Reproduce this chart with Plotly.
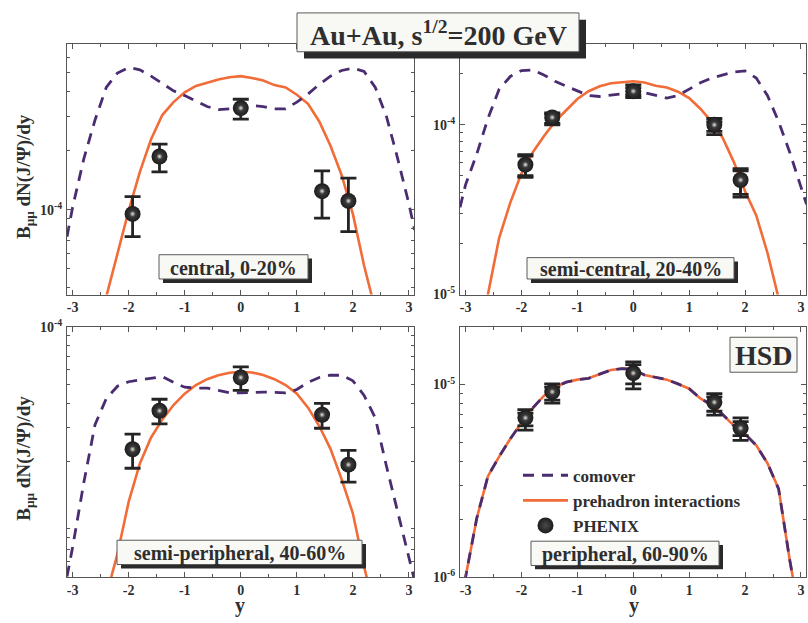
import numpy as np
import plotly.graph_objects as go

W, H = 808, 623
SERIF = "Liberation Serif"
TXT = "#2e2e2e"
AX = "#555555"
ORANGE = "#f26c38"
PURPLE = "#4a2c70"
DARK = "#242424"

# ---------------- data ----------------
rap = [-3.1, -3.0, -2.8, -2.6, -2.4, -2.2, -2.0, -1.8, -1.6, -1.4, -1.2, -1.0, -0.8,
       -0.6, -0.4, -0.2, 0.0, 0.2, 0.4, 0.6, 0.8, 1.0, 1.2, 1.4, 1.6, 1.8, 2.0, 2.2,
       2.4, 2.6, 2.8, 3.0, 3.1]

central_comover = [7.3e-5, 1.03e-4, 1.82e-4, 2.87e-4, 4.2e-4, 4.98e-4, 5.31e-4, 5.17e-4,
                   4.8e-4, 4.4e-4, 4.04e-4, 3.82e-4, 3.57e-4, 3.36e-4, 3.24e-4, 3.27e-4,
                   3.34e-4, 3.40e-4, 3.36e-4, 3.27e-4, 3.27e-4, 3.54e-4, 3.89e-4, 4.36e-4,
                   4.8e-4, 5.13e-4, 5.27e-4, 5.07e-4, 4.2e-4, 2.98e-4, 1.82e-4, 1.07e-4, 7.9e-5]
central_prehadron = [8e-6, 1.0e-5, 1.5e-5, 2.3e-5, 3.6e-5, 6.04e-5, 9.9e-5, 1.56e-4, 2.29e-4,
                     3.04e-4, 3.54e-4, 3.97e-4, 4.28e-4, 4.44e-4, 4.62e-4, 4.74e-4, 4.8e-4,
                     4.70e-4, 4.56e-4, 4.32e-4, 4.2e-4, 3.86e-4, 3.47e-4, 2.82e-4, 2.12e-4,
                     1.5e-4, 9.5e-5, 5.19e-5, 2.9e-5, 1.6e-5, 1.0e-5, 6e-6, 5e-6]

semicentral_comover = [3.26e-5, 4.44e-5, 6.73e-5, 1.09e-4, 1.62e-4, 1.93e-4, 2.09e-4, 2.11e-4,
                       1.97e-4, 1.81e-4, 1.69e-4, 1.58e-4, 1.49e-4, 1.47e-4, 1.50e-4, 1.53e-4,
                       1.55e-4, 1.55e-4, 1.49e-4, 1.44e-4, 1.49e-4, 1.62e-4, 1.77e-4, 1.89e-4,
                       1.97e-4, 2.05e-4, 2.08e-4, 1.89e-4, 1.49e-4, 1.045e-4, 6.87e-5, 4.34e-5, 3.4e-5]
semicentral_prehadron = [3e-6, 4e-6, 6e-6, 1.0e-5, 2.15e-5, 3.48e-5, 5.18e-5, 6.87e-5, 8.57e-5,
                         1.045e-4, 1.22e-4, 1.42e-4, 1.58e-4, 1.69e-4, 1.76e-4, 1.79e-4, 1.81e-4,
                         1.78e-4, 1.70e-4, 1.66e-4, 1.57e-4, 1.44e-4, 1.245e-4, 1.045e-4, 8.38e-5,
                         6.03e-5, 4.06e-5, 2.92e-5, 1.76e-5, 9.5e-6, 5e-6, 3e-6, 2.5e-6]

semiperipheral_comover = [5.04e-6, 7.14e-6, 1.55e-5, 3.1e-5, 4.23e-5, 4.91e-5, 5.18e-5, 5.28e-5,
                          5.41e-5, 5.51e-5, 5.14e-5, 4.85e-5, 4.8e-5, 4.8e-5, 4.67e-5, 4.54e-5,
                          4.53e-5, 4.56e-5, 4.58e-5, 4.56e-5, 4.53e-5, 4.72e-5, 5.14e-5, 5.45e-5,
                          5.6e-5, 5.6e-5, 5.24e-5, 4.4e-5, 3.36e-5, 1.88e-5, 1.09e-5, 6.11e-6, 4.8e-6]
semiperipheral_prehadron = [5e-7, 7e-7, 1.2e-6, 2e-6, 4e-6, 6.6e-6, 1.23e-5, 1.95e-5, 2.66e-5,
                            3.29e-5, 3.92e-5, 4.49e-5, 4.98e-5, 5.34e-5, 5.6e-5, 5.77e-5, 5.84e-5,
                            5.79e-5, 5.62e-5, 5.34e-5, 4.98e-5, 4.49e-5, 3.8e-5, 3.05e-5, 2.32e-5,
                            1.61e-5, 1.07e-5, 5.66e-6, 3.5e-6, 2e-6, 1.2e-6, 7e-7, 5e-7]

peripheral_comover = [6e-7, 1.0e-6, 2.02e-6, 3.34e-6, 4.22e-6, 5.22e-6, 6.33e-6, 7.54e-6, 8.73e-6,
                      9.7e-6, 1.028e-5, 1.06e-5, 1.077e-5, 1.13e-5, 1.19e-5, 1.21e-5, 1.2e-5,
                      1.12e-5, 1.09e-5, 1.06e-5, 1.007e-5, 9.51e-6, 8.47e-6, 7.83e-6, 6.98e-6,
                      6.1e-6, 5.53e-6, 4.83e-6, 3.9e-6, 2.87e-6, 1.22e-6, 6e-7, 4e-7]
peripheral_prehadron = [6e-7, 1.0e-6, 2.02e-6, 3.34e-6, 4.22e-6, 5.22e-6, 6.33e-6, 7.54e-6, 8.73e-6,
                        9.7e-6, 1.028e-5, 1.06e-5, 1.077e-5, 1.13e-5, 1.19e-5, 1.21e-5, 1.2e-5,
                        1.12e-5, 1.09e-5, 1.06e-5, 1.007e-5, 9.51e-6, 8.47e-6, 7.83e-6, 6.98e-6,
                        6.1e-6, 5.53e-6, 4.83e-6, 3.9e-6, 2.87e-6, 1.22e-6, 6e-7, 4e-7]

phenix_rap = [-1.93, -1.45, 0.0, 1.45, 1.92]

central_data = [9.53e-5, 1.87e-4, 3.30e-4, 1.245e-4, 1.11e-4]
central_hi = [1.166e-4, 2.16e-4, 3.66e-4, 1.58e-4, 1.45e-4]
central_lo = [7.3e-5, 1.56e-4, 2.9e-4, 9.07e-5, 7.74e-5]

semicentral_data = [5.82e-5, 1.107e-4, 1.58e-4, 1.0e-4, 4.73e-5]
semicentral_hi = [6.67e-5, 1.175e-4, 1.72e-4, 1.09e-4, 5.52e-5]
semicentral_lo = [4.91e-5, 1.0e-4, 1.45e-4, 8.77e-5, 3.75e-5]
semicentral_hi2 = [6.54e-5, 1.156e-4, 1.66e-4, 1.045e-4, 5.35e-5]
semicentral_lo2 = [5.01e-5, 1.02e-4, 1.50e-4, 9.16e-5, 3.89e-5]

semiperipheral_data = [2.31e-5, 3.66e-5, 5.45e-5, 3.49e-5, 1.92e-5]
semiperipheral_hi = [2.77e-5, 4.2e-5, 6.19e-5, 4.0e-5, 2.28e-5]
semiperipheral_lo = [1.84e-5, 3.13e-5, 4.67e-5, 2.97e-5, 1.56e-5]

peripheral_data = [6.71e-6, 9.16e-6, 1.146e-5, 8.09e-6, 5.93e-6]
peripheral_hi = [7.4e-6, 1.007e-5, 1.31e-5, 8.97e-6, 6.71e-6]
peripheral_lo = [5.8e-6, 8.0e-6, 9.5e-6, 6.93e-6, 5.12e-6]
peripheral_hi2 = [7.1e-6, 9.7e-6, 1.27e-5, 8.63e-6, 6.41e-6]
peripheral_lo2 = [6.1e-6, 8.3e-6, 1.007e-5, 7.26e-6, 5.43e-6]

panel_labels = ["central, 0-20%", "semi-central, 20-40%",
                "semi-peripheral, 40-60%", "peripheral, 60-90%"]
x_ticks = [-3, -2, -1, 0, 1, 2, 3]
x_ticktext = ["-3", "-2", "-1", "0", "1", "2", "3"]

# ---------------- layout helpers ----------------
def fx(px):
    return px / W


def fy(py):
    return 1 - py / H


panels = [
    dict(comover=central_comover, prehad=central_prehadron, data=central_data,
         hi=central_hi, lo=central_lo, hi2=None, lo2=None,
         yrange=[np.log10(3.7e-5), np.log10(7e-4)], majors=[1e-4],
         xdom=[fx(67), fx(414)], ydom=[fy(293), fy(35)]),
    dict(comover=semicentral_comover, prehad=semicentral_prehadron, data=semicentral_data,
         hi=semicentral_hi, lo=semicentral_lo, hi2=semicentral_hi2, lo2=semicentral_lo2,
         yrange=[-5.001, np.log10(3e-4)], majors=[1e-5, 1e-4],
         xdom=[fx(460), fx(806)], ydom=[fy(293), fy(35)]),
    dict(comover=semiperipheral_comover, prehad=semiperipheral_prehadron, data=semiperipheral_data,
         hi=semiperipheral_hi, lo=semiperipheral_lo, hi2=None, lo2=None,
         yrange=[np.log10(5e-6), -3.999], majors=[1e-4],
         xdom=[fx(67), fx(414)], ydom=[fy(584), fy(326)]),
    dict(comover=peripheral_comover, prehad=peripheral_prehadron, data=peripheral_data,
         hi=peripheral_hi, lo=peripheral_lo, hi2=peripheral_hi2, lo2=peripheral_lo2,
         yrange=[-6.001, np.log10(2e-5)], majors=[1e-6, 1e-5],
         xdom=[fx(460), fx(806)], ydom=[fy(584), fy(326)]),
]

fig = go.Figure()
layout = {}
tickfont = dict(family=SERIF, size=14, color=TXT, weight="bold")

for i, p in enumerate(panels):
    n = "" if i == 0 else str(i + 1)
    xa, ya = "x" + n, "y" + n
    last = (i == 3)
    fig.add_trace(go.Scatter(x=rap, y=p["prehad"], mode="lines", xaxis=xa, yaxis=ya,
                             line=dict(color=ORANGE, width=2.6), name="prehadron interactions",
                             showlegend=last, legendrank=2))
    fig.add_trace(go.Scatter(x=rap, y=p["comover"], mode="lines", xaxis=xa, yaxis=ya,
                             line=dict(color=PURPLE, width=2.8, dash="11px,8px"), name="comover",
                             showlegend=last, legendrank=1))
    plus = [h - v for h, v in zip(p["hi"], p["data"])]
    minus = [v - l for v, l in zip(p["data"], p["lo"])]
    fig.add_trace(go.Scatter(x=phenix_rap, y=p["data"], mode="markers", xaxis=xa, yaxis=ya,
                             marker=dict(size=2, color="rgba(0,0,0,0)"), showlegend=False,
                             error_y=dict(type="data", symmetric=False, array=plus, arrayminus=minus,
                                          color=DARK, thickness=2.8, width=8)))
    if p["hi2"] is not None:
        plus2 = [h - v for h, v in zip(p["hi2"], p["data"])]
        minus2 = [v - l for v, l in zip(p["data"], p["lo2"])]
        fig.add_trace(go.Scatter(x=phenix_rap, y=p["data"], mode="markers", xaxis=xa, yaxis=ya,
                                 marker=dict(size=2, color="rgba(0,0,0,0)"), showlegend=False,
                                 error_y=dict(type="data", symmetric=False, array=plus2,
                                              arrayminus=minus2, color=DARK, thickness=2.8, width=8)))
    fig.add_trace(go.Scatter(x=phenix_rap, y=p["data"], mode="markers", xaxis=xa, yaxis=ya,
                             marker=dict(size=16, color="#1c1c1c", line=dict(width=0),
                                         gradient=dict(type="radial", color="#4a4a4a")),
                             name="PHENIX", showlegend=last, legendrank=3))
    fig.add_trace(go.Scatter(x=phenix_rap, y=p["data"], mode="markers", xaxis=xa, yaxis=ya,
                             marker=dict(size=6, color="#3a3a3a", line=dict(width=0),
                                         gradient=dict(type="radial", color="#e8e2dc")),
                             showlegend=False, hoverinfo="skip"))

    lo_e, hi_e = p["yrange"]
    minors = [k * 10.0 ** e for e in range(-8, -1) for k in range(2, 10)
              if lo_e <= np.log10(k * 10.0 ** e) <= hi_e]
    layout["xaxis" + n] = dict(
        domain=p["xdom"], anchor=ya, range=[-3.1, 3.09], showline=True, linecolor=AX,
        linewidth=1, mirror="ticks", ticks="inside", ticklen=5, tickwidth=1, tickcolor=AX,
        tickmode="array", tickvals=x_ticks, ticktext=x_ticktext, tickfont=tickfont,
        minor=dict(tickmode="array", tickvals=[t + 0.5 for t in x_ticks[:-1]], ticks="inside",
                   ticklen=3, tickcolor=AX),
        showgrid=False, zeroline=False)
    layout["yaxis" + n] = dict(
        domain=p["ydom"], anchor=xa, type="log", range=p["yrange"], showline=True,
        linecolor=AX, linewidth=1, mirror="ticks", ticks="inside", ticklen=5, tickwidth=1,
        tickcolor=AX, tickmode="array", tickvals=p["majors"],
        ticktext=["10<sup>%d</sup>" % int(round(np.log10(m))) for m in p["majors"]],
        tickfont=dict(family=SERIF, size=14, color=TXT, weight="bold"), ticklabelstandoff=1,
        minor=dict(tickmode="array", tickvals=minors, ticks="inside", ticklen=3, tickcolor=AX),
        showgrid=False, zeroline=False)

# ---------------- boxes & text ----------------
shapes = []
annotations = []


def box(x0, y0, x1, y1, shadow=(4, 4)):
    if shadow:
        shapes.append(dict(type="rect", xref="paper", yref="paper", layer="above",
                           x0=fx(x0 + shadow[0]), x1=fx(x1 + shadow[0]),
                           y0=fy(y1 + shadow[1]), y1=fy(y0 + shadow[1]),
                           fillcolor="#2a2a2a", line=dict(width=0)))
    shapes.append(dict(type="rect", xref="paper", yref="paper", layer="above",
                       x0=fx(x0), x1=fx(x1), y0=fy(y1), y1=fy(y0),
                       fillcolor="#f8f8f5", line=dict(color="#5a5a5a", width=1)))


def text(t, cx, cy, size, angle=0):
    annotations.append(dict(text=t, x=fx(cx), y=fy(cy), xref="paper", yref="paper",
                            showarrow=False, xanchor="center", yanchor="middle",
                            textangle=angle,
                            font=dict(family=SERIF, size=size, color=TXT, weight="bold")))


# title
box(297, 3, 579, 43, shadow=(7, 7))
text("Au+Au, s<sup>1/2</sup>=200 GeV", 438, 24, 28)

label_boxes = [(159, 252, 308, 277), (527, 255, 734, 277), (117, 546, 362, 571), (531, 547, 719, 572)]
for lab, (x0, y0, x1, y1) in zip(panel_labels, label_boxes):
    box(x0, y0, x1, y1, shadow=(4, 4))
    text(lab, (x0 + x1) / 2, (y0 + y1) / 2 + 1, 20)

box(730, 337, 797, 373, shadow=None)
text("HSD", 763.5, 356, 28)

text("B<sub>μμ</sub> dN(J/Ψ)/dy", 25, 172, 19, angle=-90)
text("B<sub>μμ</sub> dN(J/Ψ)/dy", 25, 462, 19, angle=-90)
text("y", 240, 613, 20)
text("y", 634, 613, 20)

fig.update_layout(
    width=W, height=H, margin=dict(l=0, r=0, t=0, b=0),
    paper_bgcolor="white", plot_bgcolor="white",
    shapes=shapes, annotations=annotations,
    legend=dict(x=fx(518), y=fy(461), xanchor="left", yanchor="top",
                bgcolor="rgba(0,0,0,0)", font=dict(family=SERIF, size=17, color=TXT, weight="bold"),
                itemwidth=45, tracegroupgap=0),
    **layout,
)

fig.write_html("out.html")
